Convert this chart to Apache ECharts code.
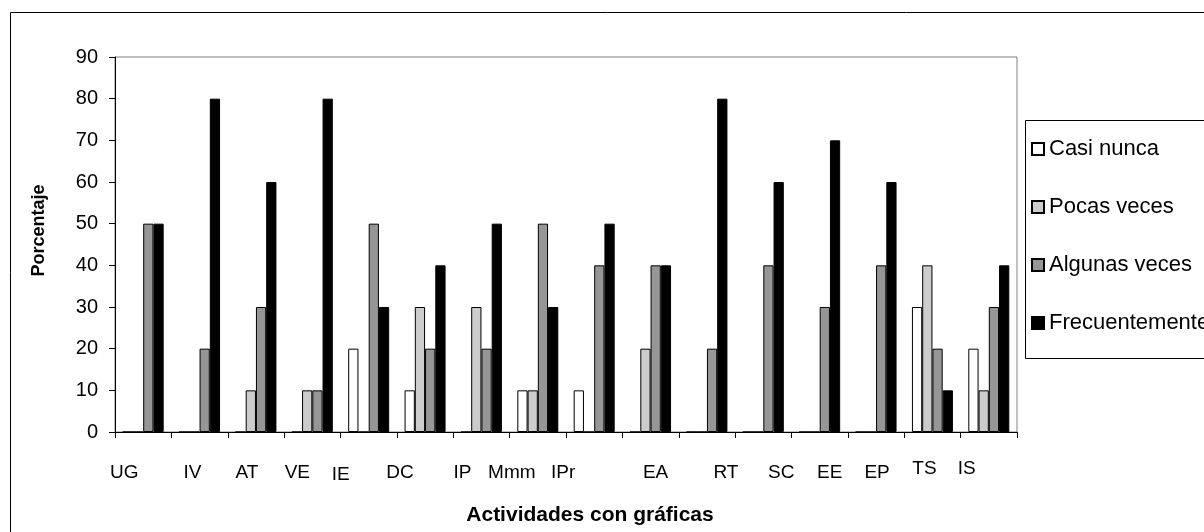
<!DOCTYPE html>
<html>
<head>
<meta charset="utf-8">
<script src="https://cdn.jsdelivr.net/npm/echarts@6/dist/echarts.min.js"></script>
<style>
  html, body { margin: 0; padding: 0; background: #fff; }
  #chart { width: 1204px; height: 532px; }
</style>
</head>
<body>
<div id="chart"></div>
<script>
// Activities with graphs and how often each one is done (percent)
const categories = ['UG', 'IV', 'AT', 'VE', 'IE', 'DC', 'IP', 'Mmm', 'IPr', 'EA', 'RT', 'SC', 'EE', 'EP', 'TS', 'IS'];
const seriesNames = ['Casi nunca', 'Pocas veces', 'Algunas veces', 'Frecuentemente'];
const casiNunca      = [0, 0, 0, 0, 20, 10, 0, 10, 10, 0, 0, 0, 0, 0, 30, 20];
const pocasVeces     = [0, 0, 10, 10, 0, 30, 30, 10, 0, 20, 0, 0, 0, 0, 40, 10];
const algunasVeces   = [50, 20, 30, 10, 50, 20, 20, 50, 40, 40, 20, 40, 30, 40, 20, 30];
const frecuentemente = [50, 80, 60, 80, 30, 40, 50, 30, 50, 40, 80, 60, 70, 60, 10, 40];
const yTicks = [0, 10, 20, 30, 40, 50, 60, 70, 80, 90];

// Nudges (px) for the category labels: horizontal and downward
const labelShift = [-19, -7, -9, -15, -28, -25, -19, -26, -31, 5, 19, 18, 10, 1, -8, -22];
const labelDrop  = [4, 4, 4, 4, 6, 4, 4, 4, 4, 4, 4, 4, 4, 4, 0, 0];

const FONT = '"Liberation Sans", Arial, sans-serif';
const fills = ['#ffffff', '#cccccc', '#969696', '#000000'];
const values = [casiNunca, pocasVeces, algunasVeces, frecuentemente];

const rich = {};
labelShift.forEach((dx, i) => {
  rich['c' + i] = {
    fontFamily: FONT, fontSize: 19, color: '#000',
    padding: dx >= 0 ? [labelDrop[i], 0, 0, 2 * dx] : [labelDrop[i], -2 * dx, 0, 0]
  };
});

const chart = echarts.init(document.getElementById('chart'), null, { renderer: 'canvas' });

chart.setOption({
  animation: false,
  backgroundColor: '#ffffff',
  textStyle: { fontFamily: FONT },
  grid: {
    left: 115, right: 187, top: 57, bottom: 100,
    show: true, borderColor: '#808080', borderWidth: 1, backgroundColor: 'transparent'
  },
  graphic: [
    { type: 'rect', shape: { x: 10.5, y: 12.5, width: 1300, height: 600 },
      style: { fill: 'none', stroke: '#000', lineWidth: 1 }, z: -1 },
    { type: 'rect', shape: { x: 1025.5, y: 120.5, width: 300, height: 238 },
      style: { fill: '#fff', stroke: '#000', lineWidth: 1 }, z: 0 }
  ],
  legend: {
    orient: 'vertical',
    left: 1026, top: 133,
    itemWidth: 12, itemHeight: 12, itemGap: 36,
    icon: 'rect',
    textStyle: { fontFamily: FONT, fontSize: 22, color: '#000' },
    data: seriesNames,
    z: 5
  },
  xAxis: {
    type: 'category',
    data: categories,
    boundaryGap: true,
    axisLine: { lineStyle: { color: '#000', width: 1 } },
    axisTick: { show: true, length: 6, inside: false, lineStyle: { color: '#000' } },
    axisLabel: {
      margin: 27,
      interval: 0,
      formatter: (v, i) => '{c' + i + '|' + v + '}',
      rich: rich
    },
    name: 'Actividades con gráficas',
    nameLocation: 'middle',
    nameGap: 73,
    nameTextStyle: { fontFamily: FONT, fontSize: 21, fontWeight: 'bold', color: '#000', padding: [0, 0, 0, 48] }
  },
  yAxis: {
    type: 'value',
    min: yTicks[0], max: yTicks[yTicks.length - 1], interval: 10,
    axisLine: { show: true, lineStyle: { color: '#000', width: 1 } },
    axisTick: { show: true, length: 6, inside: false, lineStyle: { color: '#000' } },
    splitLine: { show: false },
    axisLabel: { margin: 17, fontFamily: FONT, fontSize: 20, color: '#000' },
    name: 'Porcentaje',
    nameLocation: 'middle',
    nameRotate: 90,
    nameGap: 67,
    nameTextStyle: { fontFamily: FONT, fontSize: 18, fontWeight: 'bold', color: '#000', padding: [0, 0, 0, 28] }
  },
  series: seriesNames.map((name, k) => ({
    name: name,
    type: 'bar',
    data: values[k],
    barGap: '0%',
    barCategoryGap: '27.3%',
    itemStyle: { color: fills[k], borderColor: '#000', borderWidth: 1 },
    emphasis: { disabled: true }
  }))
});
</script>
</body>
</html>
